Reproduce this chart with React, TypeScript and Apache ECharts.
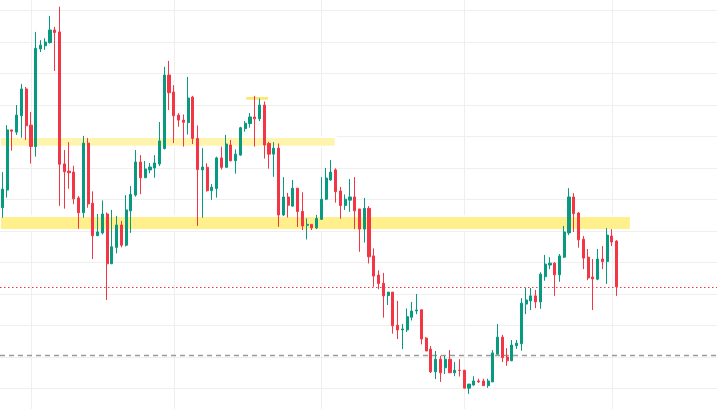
import React, { useEffect, useRef } from "react";
import * as echarts from "echarts";

// Daily sessions (151 slots, the last 21 are empty space on the right)
const START = Date.UTC(2023, 7, 26);
const DAY_COUNT = 151;
const dates: string[] = Array.from({ length: DAY_COUNT }, (_, i) =>
  new Date(START + i * 86400000).toISOString().slice(0, 10)
);

const open = [
  67.4, 73.0, 92.1, 91.4, 96.6, 105.1, 93.6, 86.8, 117.8, 118.8,
  119.8, 123.8, 123.2, 81.3, 79.0, 78.7, 70.5, 65.8, 87.9, 68.8,
  58.5, 59.4, 65.4, 49.6, 54.8, 61.9, 55.5, 66.4, 71.4, 81.9,
  76.9, 79.4, 80.0, 81.3, 86.2, 109.5, 104.1, 96.8, 95.2, 94.4,
  102.5, 89.4, 79.4, 80.2, 72.8, 73.5, 83.2, 80.2, 87.3, 82.3,
  84.1, 92.5, 94.1, 96.2, 95.6, 100.0, 87.8, 84.4, 86.3, 65.1,
  70.8, 67.9, 73.6, 66.2, 61.8, 62.1, 61.0, 63.7, 70.1, 76.2,
  79.4, 72.7, 68.1, 69.8, 70.8, 67.0, 60.6, 67.2, 52.1, 46.0,
  43.4, 39.5, 40.6, 30.1, 28.6, 28.6, 32.6, 34.6, 35.0, 26.0,
  22.5, 15.3, 19.3, 16.6, 19.3, 15.0, 15.8, 15.8, 10.1, 11.1,
  12.4, 12.4, 10.9, 12.1, 20.9, 26.3, 20.0, 18.8, 23.6, 24.2,
  36.8, 37.8, 39.4, 37.5, 45.5, 49.2, 49.8, 46.1, 51.7, 59.4,
  70.8, 65.7, 57.4, 51.7, 45.4, 44.7, 51.1, 50.3, 58.4, 56.8,
];
const close = [
  73.3, 92.1, 91.7, 96.8, 105.1, 93.4, 86.8, 118.0, 119.0, 120.0,
  123.8, 123.0, 81.2, 78.8, 78.5, 70.2, 65.8, 87.9, 68.6, 58.5,
  59.7, 65.4, 49.6, 55.0, 61.9, 55.5, 66.7, 71.6, 81.9, 76.9,
  79.7, 80.3, 81.6, 88.6, 109.5, 103.9, 96.6, 95.2, 94.5, 102.2,
  89.4, 79.5, 80.3, 72.8, 73.9, 83.2, 80.2, 87.6, 82.3, 84.4,
  92.8, 94.2, 96.2, 95.6, 100.0, 87.3, 84.4, 86.3, 65.1, 70.8,
  68.2, 73.6, 66.2, 61.6, 62.1, 61.0, 64.0, 70.1, 76.8, 78.7,
  72.5, 68.1, 70.1, 70.8, 66.4, 60.6, 67.2, 51.8, 45.7, 43.3,
  39.4, 40.6, 29.9, 28.6, 28.9, 32.8, 34.6, 34.9, 25.7, 21.9,
  15.3, 19.3, 15.0, 19.3, 15.0, 15.8, 15.7, 10.1, 11.4, 12.4,
  12.1, 10.9, 12.4, 21.3, 26.3, 19.8, 18.8, 23.8, 24.4, 37.1,
  38.1, 39.4, 37.5, 46.3, 49.5, 49.8, 46.1, 52.1, 59.7, 70.8,
  65.5, 57.2, 51.4, 45.1, 44.8, 51.1, 50.3, 58.7, 56.5, 42.3,
];
const low = [
  64.2, 70.6, 85.5, 90.5, 89.6, 88.9, 81.4, 83.6, 116.8, 117.5,
  119.5, 110.8, 68.0, 67.1, 73.4, 68.5, 60.7, 64.2, 67.4, 51.1,
  58.4, 58.9, 38.1, 49.5, 52.9, 54.8, 55.1, 59.4, 70.9, 71.7,
  76.9, 78.3, 76.9, 80.6, 85.9, 98.4, 87.9, 93.1, 86.8, 90.6,
  87.6, 61.6, 64.2, 72.5, 69.9, 70.6, 79.5, 80.2, 82.1, 78.2,
  83.9, 91.5, 92.8, 86.8, 94.9, 83.0, 79.8, 77.2, 61.3, 64.8,
  64.3, 67.7, 61.3, 60.3, 57.3, 60.3, 60.6, 63.5, 69.8, 76.0,
  69.0, 63.9, 66.7, 66.1, 60.6, 53.4, 56.3, 49.7, 42.3, 41.5,
  32.5, 36.5, 27.4, 25.7, 22.5, 27.9, 31.6, 33.6, 24.0, 21.9,
  14.9, 13.0, 12.1, 14.6, 15.0, 13.9, 13.8, 10.1, 8.3, 10.9,
  11.8, 10.9, 10.2, 12.1, 20.8, 18.4, 17.2, 18.7, 22.6, 22.0,
  33.6, 34.9, 35.5, 35.3, 44.2, 47.9, 39.4, 43.9, 51.4, 58.7,
  59.7, 54.7, 47.9, 44.4, 34.9, 44.4, 47.9, 43.2, 55.2, 39.4,
];
const high = [
  78.7, 93.6, 92.1, 100.0, 106.7, 105.7, 97.8, 123.2, 120.6, 121.2,
  128.3, 124.8, 131.2, 85.7, 88.2, 80.7, 71.1, 90.2, 89.5, 72.6,
  65.4, 69.7, 65.9, 66.7, 64.8, 63.2, 71.4, 74.3, 85.7, 84.1,
  82.2, 81.6, 84.1, 94.6, 112.1, 114.0, 106.3, 97.4, 97.0, 108.9,
  102.9, 93.5, 86.3, 81.5, 74.9, 83.6, 86.8, 90.5, 88.9, 85.9,
  93.1, 94.9, 97.4, 102.9, 102.1, 101.1, 88.3, 88.2, 87.8, 77.1,
  72.1, 76.2, 73.6, 72.3, 64.0, 62.1, 65.1, 77.1, 80.0, 82.5,
  79.9, 74.0, 71.6, 76.5, 77.1, 67.0, 70.5, 67.9, 54.5, 47.5,
  46.7, 40.6, 40.6, 37.8, 30.5, 35.4, 37.5, 40.0, 35.0, 26.3,
  23.5, 21.9, 20.4, 20.4, 22.2, 18.4, 19.3, 15.8, 11.4, 13.9,
  13.1, 13.1, 13.1, 22.2, 30.5, 27.0, 22.8, 25.4, 25.4, 38.7,
  42.0, 41.9, 41.3, 46.9, 52.4, 51.7, 50.1, 52.7, 61.6, 73.6,
  72.0, 66.0, 58.4, 54.3, 51.1, 54.3, 55.2, 60.9, 60.6, 57.1,
];

// Horizontal zones: upper price, lower price, first date index (null = from the left edge), last date index
const zoneUpper = [89.84, 64.76, 102.86];
const zoneLower = [86.76, 60.32, 101.37];
const zoneStart: (number | null)[] = [null, null, 51];
const zoneEnd = [70, 132, 56];
const zoneColors = ["#FFF4AE", "#FFF08C", "#FFE66E"];

const lastPrice = close[close.length - 1];
const supportLevel = 20.5;

const UP = "#089981";
const DOWN = "#F23645";
const GRID = "#EFEFEF";

export default function App() {
  const ref = useRef<HTMLDivElement>(null);

  useEffect(() => {
    if (!ref.current) return;
    const chart = echarts.init(ref.current, undefined, { renderer: "svg" });

    const ohlc = open.map((o, i) => [o, close[i], low[i], high[i]]);

    const areas = zoneUpper.map((u, k) => {
      const a: any = { yAxis: u, itemStyle: { color: zoneColors[k], borderColor: "#ffffff", borderWidth: 2 } };
      if (zoneStart[k] != null) a.xAxis = dates[zoneStart[k] as number];
      const b: any = { yAxis: zoneLower[k], xAxis: dates[zoneEnd[k]] };
      return [a, b];
    });

    chart.setOption({
      animation: false,
      tooltip: { show: false },
      grid: { left: 0, right: -2, top: -21, bottom: -11, containLabel: false, outerBoundsMode: "none" },
      xAxis: {
        type: "category",
        data: dates,
        boundaryGap: true,
        axisLine: { show: false },
        axisTick: { show: false },
        axisLabel: { show: false },
        splitLine: {
          show: true,
          alignWithLabel: true,
          interval: (_i: number, v: string) => v.slice(8) === "01",
          lineStyle: { color: GRID, width: 1 },
        },
      },
      yAxis: {
        type: "value",
        min: 0,
        max: 140,
        interval: 10,
        axisLine: { show: false },
        axisTick: { show: false },
        axisLabel: { show: false },
        splitLine: { show: true, lineStyle: { color: GRID, width: 1 } },
      },
      series: [
        {
          type: "candlestick",
          z: 3,
          barWidth: 2.6,
          data: ohlc,
          itemStyle: {
            color: UP,
            color0: DOWN,
            borderColor: UP,
            borderColor0: DOWN,
            borderColorDoji: DOWN,
            borderWidth: 1,
          },
          markArea: {
            z: 1,
            silent: true,
            label: { show: false },
            data: areas,
          },
          markLine: {
            z: 2,
            silent: true,
            symbol: ["none", "none"],
            label: { show: false },
            data: [
              { yAxis: lastPrice, lineStyle: { color: DOWN, type: [1.5, 2.5], width: 1 } },
              { yAxis: supportLevel, lineStyle: { color: "#9B9B9B", type: [5, 4], width: 1.3 } },
            ],
          },
        },
      ],
    });

    return () => chart.dispose();
  }, []);

  return (
    <div
      ref={ref}
      style={{ position: "absolute", left: 0, top: 0, width: 717, height: 409, background: "#ffffff" }}
    />
  );
}
